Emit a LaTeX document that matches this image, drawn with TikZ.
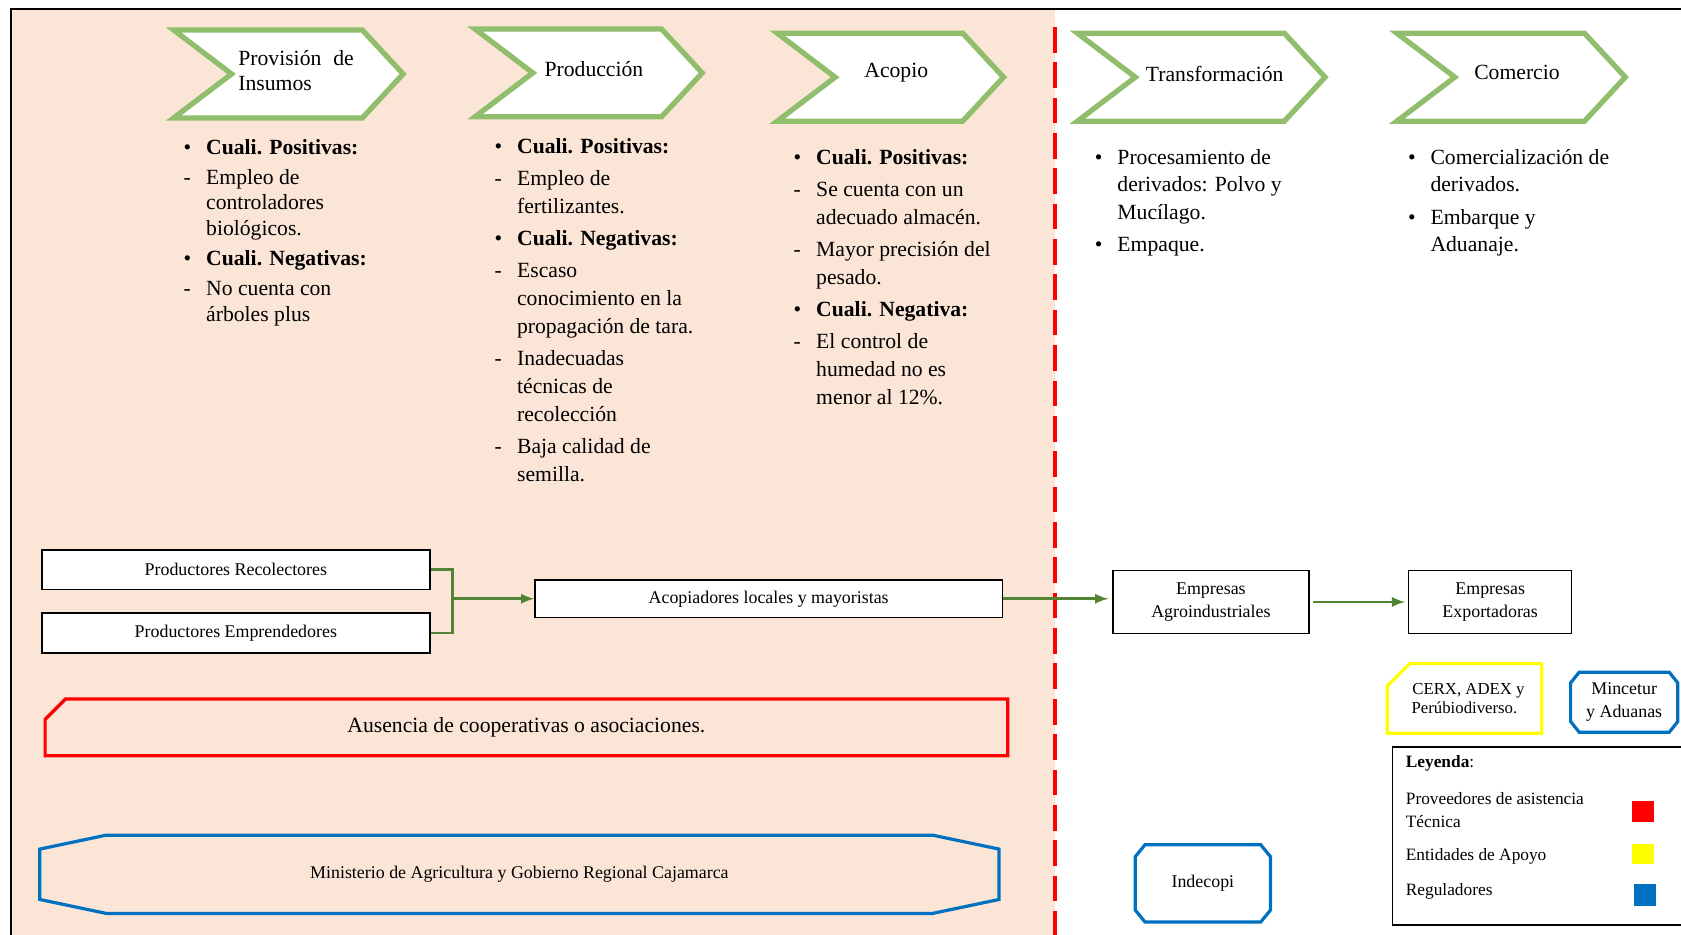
\documentclass[tikz,border=0pt]{standalone}
\usepackage{fontspec}
\setmainfont{Liberation Serif}
\usetikzlibrary{arrows, positioning, calc}
\definecolor{melocoton}{HTML}{FBE5D6}
\definecolor{verdechev}{HTML}{90BE6D}
\definecolor{verdeflecha}{HTML}{548235}
\definecolor{azulreg}{HTML}{0070C0}
\definecolor{rojoprov}{HTML}{FF0000}
\definecolor{amarilloap}{HTML}{FFFF00}

% eslabon de la cadena: izquierda, arriba, ancho
\newcommand{\eslabon}[3]{%
  \draw[chev] (#1,#2) -- ++(#3,0) -- ++(38,41) -- ++(-38,41) -- ++(-#3,0) -- ++(54,-41) -- cycle;}
% contorno ochavado alrededor de un nodo: nodo, dx, dy, estilo
\newcommand{\ochavado}[4]{%
  \draw[#4] ($(#1.north west)+(#2,0)$) -- ($(#1.north east)+(-#2,0)$) -- ($(#1.north east)+(0,#3)$)
    -- ($(#1.south east)+(0,-#3)$) -- ($(#1.south east)+(-#2,0)$) -- ($(#1.south west)+(#2,0)$)
    -- ($(#1.south west)+(0,-#3)$) -- ($(#1.north west)+(0,#3)$) -- cycle;}
% contorno con una esquina cortada (arriba izquierda)
\newcommand{\chaflan}[4]{%
  \draw[#4] ($(#1.north west)+(#2,0)$) -- (#1.north east) -- (#1.south east) -- (#1.south west)
    -- ($(#1.north west)+(0,#3)$) -- cycle;}

\begin{document}
\begin{tikzpicture}[x=0.02cm, y=-0.02cm,
    chev/.style={draw=verdechev, line width=2.8pt, fill=white, line join=miter},
    etq/.style={font=\fontsize{11.5}{13.6}\selectfont, inner sep=0pt, align=center},
    lista/.style={font=\fontsize{11.5}{14.8}\selectfont, inner sep=0pt, anchor=base west},
    caja/.style={draw, line width=0.8pt, fill=white, inner sep=1pt, align=center, font=\fontsize{9.5}{11.9}\selectfont},
    flecha/.style={draw=verdeflecha, line width=1.4pt},
    marco/.style={inner sep=0pt, outer sep=0pt, align=center, font=\fontsize{9.5}{11.9}\selectfont},
    azul/.style={draw=azulreg, line width=1.7pt},
    ley/.style={font=\fontsize{9.2}{11.9}\selectfont, inner sep=0pt, anchor=west, align=left},
    cuadro/.style={inner sep=0pt, minimum width=0.42cm, minimum height=0.38cm}]

    % fondo y marco
    \useasboundingbox (0,0) rectangle (1568,872);
    \fill[melocoton] (10,8) rectangle (984,872);
    \draw[line width=1pt] (10,872) -- (10,8) -- (1568,8);
    \draw[rojoprov, line width=2.3pt, dash pattern=on 0.48cm off 0.18cm] (984,25) -- (984,872);

    % eslabones
    \eslabon{162}{28}{176}
    \eslabon{443}{27}{174}
    \eslabon{725}{31}{173}
    \eslabon{1005}{31}{193}
    \eslabon{1303}{31}{175}
    \node[etq, anchor=west, align=left] (provision) at (222,66) {Provisión\hspace{0.55em}de\\Insumos};
    \node[etq] (produccion) at (554,64) {Producción};
    \node[etq] (acopio) at (836,68) {Acopio};
    \node[etq] (transf) at (1133,69) {Transformación};
    \node[etq] (comercio) at (1415,68) {Comercio};

    % caracteristicas de cada eslabon
    \node[lista, font=\fontsize{11.5}{13.6}\selectfont] (col1) at (171,144) {%
      \begin{tabular}[t]{@{}p{0.42cm}@{}l@{}}
        \textbullet & \textbf{Cuali. Positivas:}\\[2.3pt]
        - & Empleo de\\
          & controladores\\
          & biológicos.\\[2.3pt]
        \textbullet & \textbf{Cuali. Negativas:}\\[2.3pt]
        - & No cuenta con\\
          & árboles plus
      \end{tabular}};
    \node[lista] (col2) at (461,143) {%
      \begin{tabular}[t]{@{}p{0.42cm}@{}l@{}}
        \textbullet & \textbf{Cuali. Positivas:}\\[2.3pt]
        - & Empleo de\\
          & fertilizantes.\\[2.3pt]
        \textbullet & \textbf{Cuali. Negativas:}\\[2.3pt]
        - & Escaso\\
          & conocimiento en la\\
          & propagación de tara.\\[2.3pt]
        - & Inadecuadas\\
          & técnicas de\\
          & recolección\\[2.3pt]
        - & Baja calidad de\\
          & semilla.
      \end{tabular}};
    \node[lista] (col3) at (740,153) {%
      \begin{tabular}[t]{@{}p{0.42cm}@{}l@{}}
        \textbullet & \textbf{Cuali. Positivas:}\\[2.3pt]
        - & Se cuenta con un\\
          & adecuado almacén.\\[2.3pt]
        - & Mayor precisión del\\
          & pesado.\\[2.3pt]
        \textbullet & \textbf{Cuali. Negativa:}\\[2.3pt]
        - & El control de\\
          & humedad no es\\
          & menor al 12\%.
      \end{tabular}};
    \node[lista] (col4) at (1021,153) {%
      \begin{tabular}[t]{@{}p{0.42cm}@{}l@{}}
        \textbullet & Procesamiento de\\
          & derivados: Polvo y\\
          & Mucílago.\\[2.3pt]
        \textbullet & Empaque.
      \end{tabular}};
    \node[lista] (col5) at (1313,153) {%
      \begin{tabular}[t]{@{}p{0.42cm}@{}l@{}}
        \textbullet & Comercialización de\\
          & derivados.\\[2.3pt]
        \textbullet & Embarque y\\
          & Aduanaje.
      \end{tabular}};

    % actores
    \node[caja, minimum width=7.24cm, minimum height=0.74cm] (recol) at (220,531.5) {Productores Recolectores};
    \node[caja, minimum width=7.24cm, minimum height=0.74cm] (empr) at (220,590.5) {Productores Emprendedores};
    \node[caja, minimum width=8.72cm, minimum height=0.70cm] (acop) at (717,558.5) {Acopiadores locales y mayoristas};
    \node[caja, minimum width=3.66cm, minimum height=1.18cm] (agro) at (1129.5,561.5) {Empresas\\Agroindustriales};
    \node[caja, minimum width=3.04cm, minimum height=1.18cm] (expo) at (1390,561.5) {Empresas\\Exportadoras};

    % flujo
    \coordinate (union) at (422,558.5);
    \draw[flecha] (recol.east) -| (union) |- (empr.east);
    \draw[flecha, -latex] (union) -- (acop.west);
    \draw[flecha, -latex, shorten >=2pt] (acop.east) -- (acop.east -| agro.west);
    \draw[flecha, -latex, shorten <=1.5pt, shorten >=1.5pt] (agro.east) -- (expo.west);

    % entorno institucional
    \node[marco, minimum width=17.96cm, minimum height=1.06cm, font=\fontsize{11.5}{13.6}\selectfont] (ausencia) at (491,678.5) {Ausencia de cooperativas o asociaciones.};
    \chaflan{ausencia}{19}{19}{draw=rojoprov, line width=1.7pt}
    \node[marco, minimum width=17.9cm, minimum height=1.46cm] (minag) at (484.5,815.5) {Ministerio de Agricultura y Gobierno Regional Cajamarca};
    \ochavado{minag}{62}{13}{azul}
    \node[marco, minimum width=2.52cm, minimum height=1.44cm] (indecopi) at (1122,824) {Indecopi};
    \ochavado{indecopi}{9}{11}{azul}
    \node[marco, minimum width=2.0cm, minimum height=1.12cm] (mincetur) at (1515,655) {Mincetur\\y Aduanas};
    \ochavado{mincetur}{8}{10}{azul}
    \node[marco, minimum width=2.88cm, minimum height=1.3cm, font=\fontsize{8.9}{10.2}\selectfont] (cerx) at (1366,651.5) {\hspace{0.15cm}CERX, ADEX y\\Perúbiodiverso.};
    \chaflan{cerx}{21}{21}{draw=amarilloap, line width=1.7pt}

    % leyenda
    \draw[line width=0.8pt] (1568,697) -- (1299,697) -- (1299,863) -- (1568,863);
    \node[ley] (leyenda) at (1311,712) {\textbf{Leyenda}:};
    \node[ley] (ley1) at (1311,755.5) {Proveedores de asistencia\\Técnica};
    \node[ley] (ley2) at (1311,799) {Entidades de Apoyo};
    \node[ley] (ley3) at (1311,831) {Reguladores};
    \node[cuadro, fill=rojoprov] (sq1) at (1532.5,757) {};
    \node[cuadro, fill=amarilloap] (sq2) at (1532.5,796.5) {};
    \node[cuadro, fill=azulreg, minimum height=0.4cm] (sq3) at (1534.5,835) {};
\end{tikzpicture}
\end{document}
